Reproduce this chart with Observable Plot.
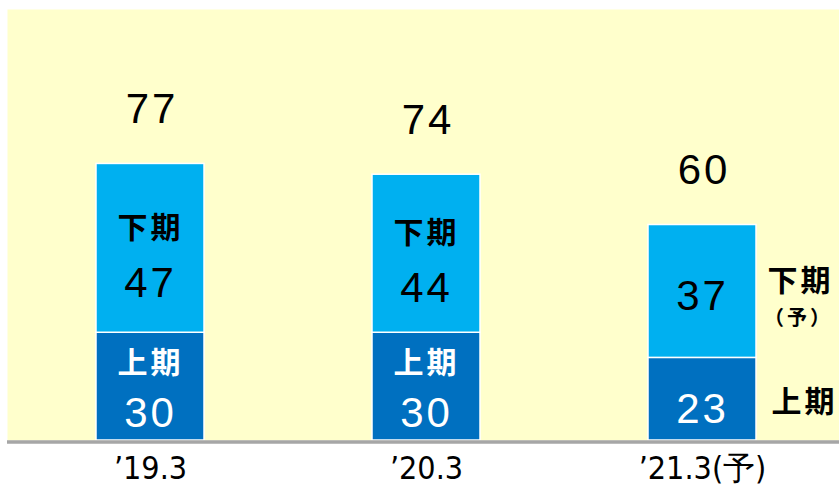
<!DOCTYPE html>
<html>
<head>
<meta charset="utf-8">
<script src="https://cdn.jsdelivr.net/npm/d3@7"></script>
<script src="https://cdn.jsdelivr.net/npm/@observablehq/plot@0.6"></script>
<style>
  html, body { margin: 0; padding: 0; background: #ffffff; }
  #chart svg { display: block; }
  #chart svg text { letter-spacing: 3px; }
</style>
</head>
<body>
<div id="chart"></div>
<script>
const years = ["’19.3", "’20.3", "’21.3(予)"];
const firstHalf = [30, 30, 23];
const secondHalf = [47, 44, 37];
const totals = [77, 74, 60];
const forecast = [false, false, true];
const halves = ["上期", "下期"];
const halfColors = ["#0070C0", "#00B0F0"];

const rows = years.flatMap((year, i) => [
  {year, half: halves[0], value: firstHalf[i]},
  {year, half: halves[1], value: secondHalf[i]}
]);
const idx = years.map((d, i) => i);
const actual = idx.filter(i => !forecast[i]);
const fc = idx.filter(i => forecast[i]);

const cjk = "'Noto Sans CJK JP', 'Noto Sans', sans-serif";
const num = "'Liberation Sans', Arial, sans-serif";

const chart = Plot.plot({
  width: 839,
  height: 487,
  marginTop: 9,
  marginBottom: 47,
  marginLeft: 7,
  marginRight: 0,
  style: {background: "#ffffff", overflow: "visible"},
  x: {domain: years, paddingInner: 0.609, paddingOuter: 0.311, align: 0.517, axis: null},
  y: {domain: [0, 120], axis: null},
  color: {domain: halves, range: halfColors},
  marks: [
    Plot.frame({fill: "#FFFFCC", stroke: "none"}),
    Plot.barY(rows, {x: "year", y: "value", fill: "half", stroke: "#ffffff", strokeWidth: 1.5}),
    Plot.ruleY([0], {stroke: "#A6A6A6", strokeWidth: 3.5, dy: 1.5}),
    // totals
    Plot.text(idx, {x: i => years[i], y: i => totals[i], text: i => String(totals[i]), dx: 1.5, dy: -54, fontSize: 42, fontFamily: num, fill: "#000000"}),
    // in-bar half labels (actual years)
    Plot.text(actual, {x: i => years[i], y: i => firstHalf[i] + secondHalf[i] / 2, text: () => halves[1], dy: -20, fontSize: 30, fontWeight: "bold", fontFamily: cjk, fill: "#000000"}),
    Plot.text(actual, {x: i => years[i], y: i => firstHalf[i] / 2, text: () => halves[0], dy: -23, fontSize: 30, fontWeight: "bold", fontFamily: cjk, fill: "#ffffff"}),
    // in-bar values (actual years)
    Plot.text(actual, {x: i => years[i], y: i => firstHalf[i] + secondHalf[i] / 2, text: i => String(secondHalf[i]), dy: 35, fontSize: 42, fontFamily: num, fill: "#000000"}),
    Plot.text(actual, {x: i => years[i], y: i => firstHalf[i] / 2, text: i => String(firstHalf[i]), dy: 27, fontSize: 42, fontFamily: num, fill: "#ffffff"}),
    // in-bar values (forecast)
    Plot.text(fc, {x: i => years[i], y: i => firstHalf[i] + secondHalf[i] / 2, text: i => String(secondHalf[i]), dy: 5, fontSize: 42, fontFamily: num, fill: "#000000"}),
    Plot.text(fc, {x: i => years[i], y: i => firstHalf[i] / 2, text: i => String(firstHalf[i]), dy: 10, fontSize: 42, fontFamily: num, fill: "#ffffff"}),
    // outside labels (forecast)
    Plot.text(fc, {x: i => years[i], y: i => firstHalf[i] + secondHalf[i] / 2, text: () => halves[1], dx: 98, dy: -10, fontSize: 30, fontWeight: "bold", fontFamily: cjk, fill: "#000000"}),
    Plot.text(fc, {x: i => years[i], y: i => firstHalf[i] + secondHalf[i] / 2, text: () => "（予）", dx: 96, dy: 27, fontSize: 20, fontWeight: "bold", fontFamily: cjk, fill: "#000000"}),
    Plot.text(fc, {x: i => years[i], y: i => firstHalf[i] / 2, text: () => halves[0], dx: 102, dy: 3, fontSize: 30, fontWeight: "bold", fontFamily: cjk, fill: "#000000"}),
    // x labels
    Plot.text(years, {x: d => d, frameAnchor: "bottom", text: d => d, dy: 38, fontSize: 32, fontFamily: "'Liberation Sans Narrow', 'DejaVu Sans Condensed', sans-serif", fill: "#000000"})
  ]
});
const textGroups = chart.querySelectorAll('g[aria-label="text"]');
const xLabelGroup = textGroups[textGroups.length - 1];
xLabelGroup.querySelectorAll("text").forEach(t => t.style.letterSpacing = "0px");
document.getElementById("chart").appendChild(chart);
</script>
</body>
</html>
